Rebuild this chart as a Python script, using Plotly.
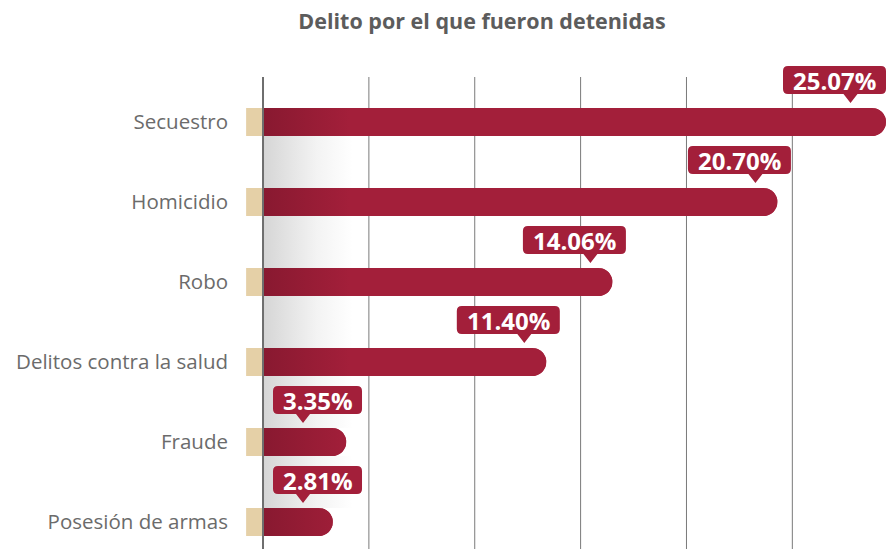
import math
import plotly.graph_objects as go

# ---------------- data ----------------
categories = ["Secuestro", "Homicidio", "Robo", "Delitos contra la salud", "Fraude", "Posesión de armas"]
values = [25.07, 20.70, 14.06, 11.40, 3.35, 2.81]
labels = ["25.07%", "20.70%", "14.06%", "11.40%", "3.35%", "2.81%"]
title_text = "Delito por el que fueron detenidas"

# ---------------- style / geometry ----------------
W, H = 889, 549
M_L, M_R, M_T, M_B = 240, 0, 55, 0
X_MIN, X_MAX = -0.926, 25.19
PPU = (W - M_L - M_R) / (X_MAX - X_MIN)          # px per x unit
ZERO_PX = M_L + (-X_MIN) * PPU
ROW_PX = 80.0
FIRST_CENTER_PX = 122.0
Y_TOP = -(FIRST_CENTER_PX - M_T) / ROW_PX
Y_BOT = (H - M_B - FIRST_CENTER_PX) / ROW_PX
AXIS_TOP = -(FIRST_CENTER_PX - 77) / ROW_PX
BAR_W = 28 / ROW_PX
GRID_STEP = 4.26
RED = "#a31f3a"
RED_DARK = "#881930"
BEIGE = "#e5d0a7"
FONT = "Open Sans"

n = len(categories)
idx = list(range(n))

fig = go.Figure()

# gray shadow between rows (left side)
sx, sy = [], []
for i in range(n - 1):
    y0, y1 = i + BAR_W / 2, i + 1 - BAR_W / 2
    sx += [0, 3.6, 3.6, 0, 0, None]
    sy += [y0, y0, y1, y1, y0, None]
fig.add_trace(go.Scatter(
    x=sx, y=sy, mode="lines", fill="toself", line=dict(width=0),
    fillgradient=dict(type="horizontal", start=0, stop=3.6,
                      colorscale=[[0, "#d5d5d5"], [0.6, "#f3f3f3"], [1, "#ffffff"]]),
    hoverinfo="skip", showlegend=False))

# beige stubs left of axis
fig.add_trace(go.Bar(
    y=idx, x=[0.68] * n, base=[-0.68] * n, orientation="h", width=BAR_W,
    marker=dict(color=BEIGE, line=dict(width=0)), hoverinfo="skip", showlegend=False))

# main bars
fig.add_trace(go.Bar(
    y=idx, x=values, orientation="h", width=BAR_W,
    marker=dict(color=RED, line=dict(width=0), cornerradius=14),
    hoverinfo="skip", showlegend=False))

# dark gradient overlay following each bar's outline (rounded end)
r_units = 14 / PPU
hb = BAR_W / 2
gx, gy = [], []
for i, v in enumerate(values):
    xc = v - r_units
    gx += [0, xc]
    gy += [i - hb, i - hb]
    for s in range(1, 24):
        t = -math.pi / 2 + math.pi * s / 24
        gx.append(xc + r_units * math.cos(t))
        gy.append(i + hb * math.sin(t))
    gx += [xc, 0, 0, None]
    gy += [i + hb, i + hb, i - hb, None]
fig.add_trace(go.Scatter(
    x=gx, y=gy, mode="lines", fill="toself", line=dict(width=0),
    fillgradient=dict(type="horizontal", start=0, stop=3.5,
                      colorscale=[[0, RED_DARK], [1, RED]]),
    hoverinfo="skip", showlegend=False))

shapes = []
# gridlines
k = 1
while k * GRID_STEP < X_MAX:
    shapes.append(dict(type="line", xref="x", yref="y", x0=k * GRID_STEP, x1=k * GRID_STEP,
                       y0=AXIS_TOP, y1=Y_BOT, line=dict(color="#7a7a7a", width=1), layer="below"))
    k += 1
# zero axis line
shapes.append(dict(type="line", xref="x", yref="y", x0=0, x1=0, y0=AXIS_TOP, y1=Y_BOT,
                   line=dict(color="#6e6e6e", width=2), layer="above"))

annotations = []
B, T, TIP, RAD = 28, 56, 19, 5
for i, (v, lab) in enumerate(zip(values, labels)):
    w = 14 * len(lab) + 19
    anchor = v
    cx = -38.0
    px = cx + 16
    end_abs = ZERO_PX + v * PPU
    if end_abs + cx + w / 2 > W - 3:
        cx = (W - 3 - w / 2) - end_abs
        px = cx + 16
    if v * PPU + cx - w / 2 < 10:
        anchor = 0
        cx = 10 + w / 2
        px = cx - w / 2 + 30
    L, R = cx - w / 2, cx + w / 2
    path = (f"M {L+RAD},{B} L {px-7},{B} L {px},{TIP} L {px+7},{B} L {R-RAD},{B} "
            f"Q {R},{B} {R},{B+RAD} L {R},{T-RAD} Q {R},{T} {R-RAD},{T} "
            f"L {L+RAD},{T} Q {L},{T} {L},{T-RAD} L {L},{B+RAD} Q {L},{B} {L+RAD},{B} Z")
    shapes.append(dict(type="path", xref="x", yref="y", xsizemode="pixel", ysizemode="pixel",
                       xanchor=anchor, yanchor=i, path=path, fillcolor=RED,
                       line=dict(width=0), layer="above"))
    annotations.append(dict(x=anchor, y=i, xref="x", yref="y", xshift=cx, yshift=(B + T) / 2,
                            text=f"<b>{lab}</b>", showarrow=False,
                            font=dict(family=FONT, size=24, color="white"),
                            xanchor="center", yanchor="middle"))

fig.update_layout(
    width=W, height=H,
    margin=dict(l=M_L, r=M_R, t=M_T, b=M_B, pad=0),
    paper_bgcolor="white", plot_bgcolor="white",
    barmode="overlay",
    showlegend=False,
    title=dict(text=f"<b>{title_text}</b>", xref="container", yref="container",
               x=482 / W, y=1 - 21 / H, xanchor="center", yanchor="middle",
               font=dict(family=FONT, size=21.5, color="#5c5c5c")),
    xaxis=dict(range=[X_MIN, X_MAX], showgrid=False, zeroline=False, showticklabels=False,
               showline=False, fixedrange=True),
    yaxis=dict(range=[Y_BOT, Y_TOP], tickmode="array", tickvals=idx, ticktext=categories,
               showgrid=False, zeroline=False, showline=False, ticks="",
               ticklabelstandoff=11,
               tickfont=dict(family=FONT, size=20.5, color="#6b6b6b"), fixedrange=True),
    shapes=shapes,
    annotations=annotations,
)

fig.write_html("out.html", config={"displayModeBar": False},
               post_script="document.body.style.margin='0';")
